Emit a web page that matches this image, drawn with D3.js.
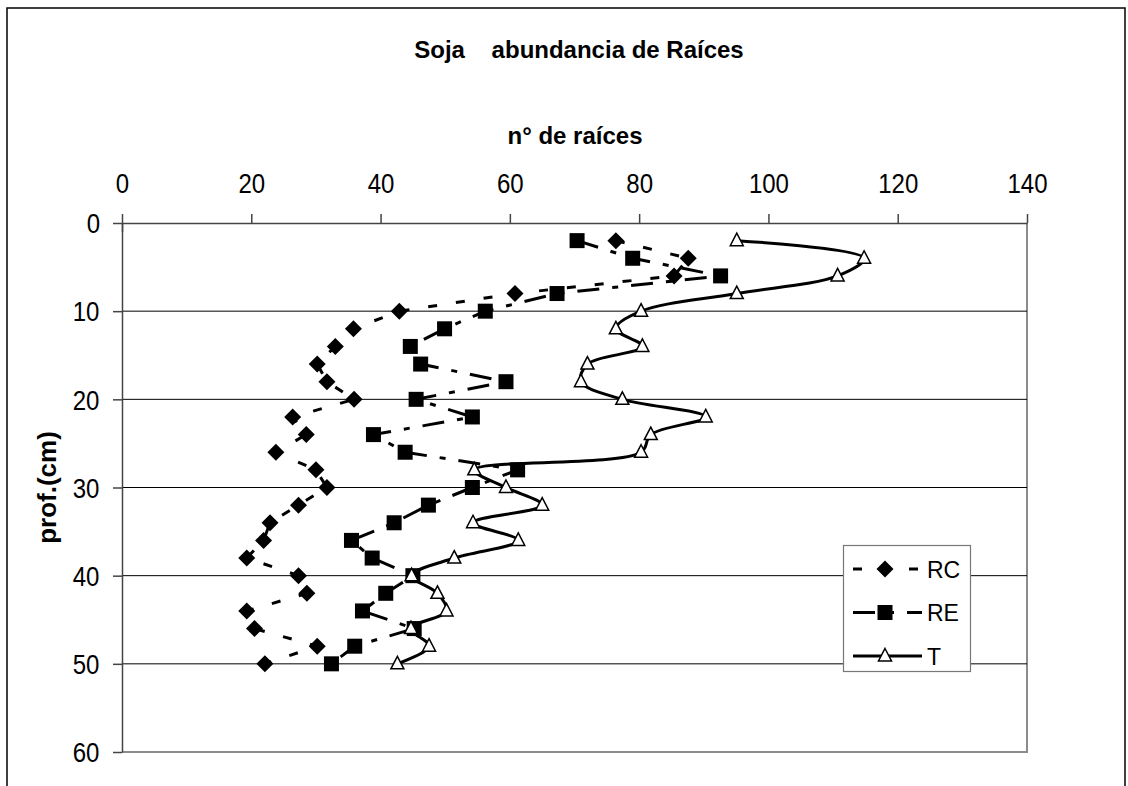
<!DOCTYPE html>
<html>
<head>
<meta charset="utf-8">
<script src="https://cdn.jsdelivr.net/npm/d3@7"></script>
<style>
  html, body { margin: 0; padding: 0; background: #fff; }
  svg { display: block; font-family: "Liberation Sans", Arial, sans-serif; }
  .title, .xtitle, .ytitle { font-weight: bold; white-space: pre; }
  .axis text {
    font-size: 27px; fill: #000;
    transform-box: fill-box; transform-origin: center; transform: scaleX(0.89);
  }
  .legend text { font-size: 23px; }
</style>
</head>
<body>
<svg id="chart" width="1128" height="786"></svg>
<script>
// Root abundance by depth (cm), every 2 cm from 2 to 50
const depths = [2, 4, 6, 8, 10, 12, 14, 16, 18, 20, 22, 24, 26, 28, 30, 32, 34, 36, 38, 40, 42, 44, 46, 48, 50];
const rcValues = [76.4, 87.6, 85.4, 60.8, 42.9, 35.8, 33.0, 30.2, 31.7, 35.9, 26.4, 28.5, 23.8, 30.0, 31.7, 27.3, 22.9, 21.9, 19.3, 27.3, 28.6, 19.3, 20.5, 30.2, 22.1];
const reValues = [70.4, 79.0, 92.6, 67.3, 56.2, 49.9, 44.6, 46.2, 59.4, 45.5, 54.2, 38.9, 43.8, 61.2, 54.2, 47.4, 42.1, 35.5, 38.7, 45.0, 40.8, 37.2, 45.2, 36.0, 32.4];
const tValues  = [95.1, 114.8, 110.7, 95.1, 80.3, 76.4, 80.5, 72.0, 71.0, 77.4, 90.3, 81.8, 80.3, 54.5, 59.4, 65.0, 54.3, 61.3, 51.4, 44.8, 48.8, 50.2, 44.7, 47.5, 42.6];
const seriesNames = ["RC", "RE", "T"];
const xTicks = [0, 20, 40, 60, 80, 100, 120, 140];
const yTicks = [0, 10, 20, 30, 40, 50, 60];

const svg = d3.select("#chart");
const plot = { left: 122, right: 1027, top: 223, bottom: 752 };

const x = d3.scaleLinear().domain([0, 140]).range([plot.left, plot.right]);
const y = d3.scaleLinear().domain([0, 60]).range([plot.top, plot.bottom]);

// outer chart frame
svg.append("rect")
  .attr("x", 7).attr("y", 8).attr("width", 1118).attr("height", 800)
  .attr("fill", "none").attr("stroke", "#000").attr("stroke-width", 1.5);

// plot area border (right and bottom)
svg.append("path")
  .attr("d", `M${plot.right},${plot.top}V${plot.bottom}H${plot.left}`)
  .attr("fill", "none").attr("stroke", "#8c8c8c").attr("stroke-width", 2);

// horizontal gridlines
svg.append("g").selectAll("line")
  .data(yTicks.filter(d => d > 0 && d < 60))
  .join("line")
  .attr("x1", plot.left).attr("x2", plot.right)
  .attr("y1", d => y(d)).attr("y2", d => y(d))
  .attr("stroke", "#000").attr("stroke-width", 1);

// top value axis
const xAxis = svg.append("g").attr("class", "axis")
  .attr("transform", `translate(0,${plot.top})`)
  .call(d3.axisTop(x).tickValues(xTicks).tickSize(9).tickPadding(21).tickSizeOuter(0));
xAxis.select(".domain").attr("stroke", "#444").attr("stroke-width", 1.5);
xAxis.selectAll(".tick line").attr("stroke", "#444").attr("stroke-width", 1.5);
xAxis.selectAll(".tick line").filter(d => d === 0).attr("y2", 9).attr("y1", -9);

// left depth axis
const yAxis = svg.append("g").attr("class", "axis")
  .attr("transform", `translate(${plot.left},0)`)
  .call(d3.axisLeft(y).tickValues(yTicks).tickSize(9).tickPadding(12).tickSizeOuter(0));
yAxis.select(".domain").attr("stroke", "#444").attr("stroke-width", 1.5);
yAxis.selectAll(".tick line").attr("stroke", "#444").attr("stroke-width", 1.5);
yAxis.selectAll(".tick text").attr("dy", "0.36em");

// titles
svg.append("text").attr("class", "title")
  .attr("x", 579).attr("y", 58).attr("text-anchor", "middle")
  .attr("font-size", 24).text("Soja    abundancia de Raíces");
svg.append("text").attr("class", "xtitle")
  .attr("x", 575).attr("y", 144).attr("text-anchor", "middle")
  .attr("font-size", 24).text("n° de raíces");
svg.append("text").attr("class", "ytitle")
  .attr("transform", `translate(56,${(plot.top + plot.bottom) / 2}) rotate(-90)`)
  .attr("text-anchor", "middle")
  .attr("font-size", 26).text("prof.(cm)");

// series definitions
const series = [
  { name: seriesNames[0], values: rcValues, dash: "9,19", curve: d3.curveLinear, marker: "diamond" },
  { name: seriesNames[1], values: reValues, dash: "22,13,6,13", curve: d3.curveLinear, marker: "square" },
  { name: seriesNames[2], values: tValues, dash: null, curve: d3.curveCatmullRom.alpha(0.5), marker: "triangle" }
];

function drawMarker(g, kind) {
  if (kind === "diamond") {
    g.append("path").attr("d", "M0,-8.5L8.5,0L0,8.5L-8.5,0Z").attr("fill", "#000");
  } else if (kind === "square") {
    g.append("rect").attr("x", -7.5).attr("y", -7.5).attr("width", 15).attr("height", 15).attr("fill", "#000");
  } else {
    g.append("path").attr("d", "M0,-7.5L6.5,5L-6.5,5Z")
      .attr("fill", "#fff").attr("stroke", "#000").attr("stroke-width", 1.5);
  }
}

series.forEach(s => {
  const pts = depths.map((d, i) => [s.values[i], d]);
  const line = d3.line().x(p => x(p[0])).y(p => y(p[1])).curve(s.curve);
  svg.append("path")
    .attr("d", line(pts))
    .attr("fill", "none").attr("stroke", "#000").attr("stroke-width", 3)
    .attr("stroke-dasharray", s.dash);
});
series.forEach(s => {
  const g = svg.append("g");
  depths.forEach((d, i) => {
    const m = g.append("g").attr("transform", `translate(${x(s.values[i])},${y(d)})`);
    drawMarker(m, s.marker);
  });
});

// legend
const legend = svg.append("g").attr("class", "legend");
legend.append("rect")
  .attr("x", 843.5).attr("y", 545.5).attr("width", 127).attr("height", 126)
  .attr("fill", "#fff").attr("stroke", "#777").attr("stroke-width", 1.2);
series.forEach((s, i) => {
  const cy = 569 + i * 43.5;
  legend.append("line")
    .attr("x1", 853).attr("x2", 922).attr("y1", cy).attr("y2", cy)
    .attr("stroke", "#000").attr("stroke-width", 3)
    .attr("stroke-dasharray", s.dash);
  const m = legend.append("g").attr("transform", `translate(885,${cy})`);
  drawMarker(m, s.marker);
  legend.append("text").attr("x", 927).attr("y", cy + 8.5).text(s.name);
});
</script>
</body>
</html>
